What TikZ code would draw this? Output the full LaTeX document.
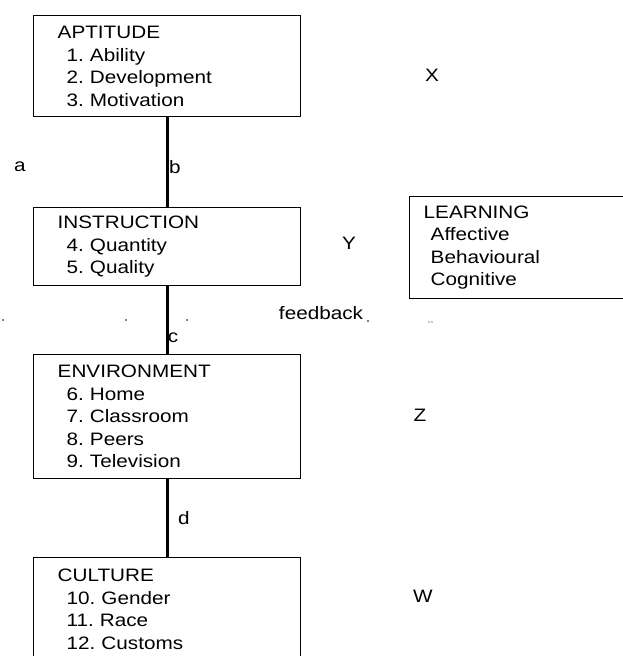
\documentclass[tikz,border=0pt]{standalone}
\usepackage{fontspec}
\setmainfont{Liberation Sans}[FakeStretch=1.15]
\frenchspacing
\begin{document}
\begin{tikzpicture}[x=1pt,y=-1pt,
  every node/.style={font=\fontsize{18}{22.5}\selectfont},
  box/.style={draw=black,line width=1.4pt,anchor=north west,align=left,
    text width=219pt,inner xsep=24pt,inner ysep=0pt,minimum width=267pt},
  lbox/.style={draw=black,line width=1.4pt,anchor=north west,align=left,
    text width=212pt,inner xsep=14pt,inner ysep=0pt,minimum width=240pt},
  conn/.style={draw=black,line width=3pt},
  lab/.style={inner sep=0pt,anchor=center},
  speck/.style={fill=black,inner sep=0pt,minimum size=1.8pt,circle}]
\useasboundingbox (0,0) rectangle (623,656);
\fill[white] (0,0) rectangle (623,656);

\node[box,minimum height=101pt] (apt) at (33,15)
  {APTITUDE\\\hspace*{9pt}1. Ability\\\hspace*{9pt}2. Development\\\hspace*{9pt}3. Motivation};
\node[box,minimum height=78pt] (ins) at (33,207)
  {INSTRUCTION\\\hspace*{9pt}4. Quantity\\\hspace*{9pt}5. Quality};
\node[box,minimum height=124pt] (env) at (33,354)
  {ENVIRONMENT\\\hspace*{9pt}6. Home\\\hspace*{9pt}7. Classroom\\\hspace*{9pt}8. Peers\\\hspace*{9pt}9. Television};
\node[box,minimum height=103pt] (cul) at (33,557)
  {CULTURE\\\hspace*{9pt}10. Gender\\\hspace*{9pt}11. Race\\\hspace*{9pt}12. Customs};
\node[lbox,minimum height=102pt] (lea) at (409,196)
  {LEARNING\\\hspace*{7pt}Affective\\\hspace*{7pt}Behavioural\\\hspace*{7pt}Cognitive};

\draw[conn] (apt) -- (ins);
\draw[conn] (ins) -- (env);
\draw[conn] (env) -- (cul);

\node[lab] (la) at (20,167) {a};
\node[lab] (lb) at (175,167) {b};
\node[lab] (lc) at (173,338) {c};
\node[lab] (ld) at (184,518) {d};

\node[lab] (lx) at (432,75) {X};
\node[lab] (ly) at (349,243) {Y};
\node[lab] (lz) at (420,415) {Z};
\node[lab] (lw) at (423,596) {W};

\node[lab] (fb) at (321,313) {feedback};
\node[speck] (s1) at (368,321) {};
\node[speck] (s2) at (3,320) {};
\node[speck] (s3) at (126,320) {};
\node[speck] (s4) at (187,320) {};
\node[speck,minimum size=1.3pt] (s5) at (429,322) {};
\node[speck,minimum size=1.3pt] (s6) at (432,322) {};
\end{tikzpicture}
\end{document}
